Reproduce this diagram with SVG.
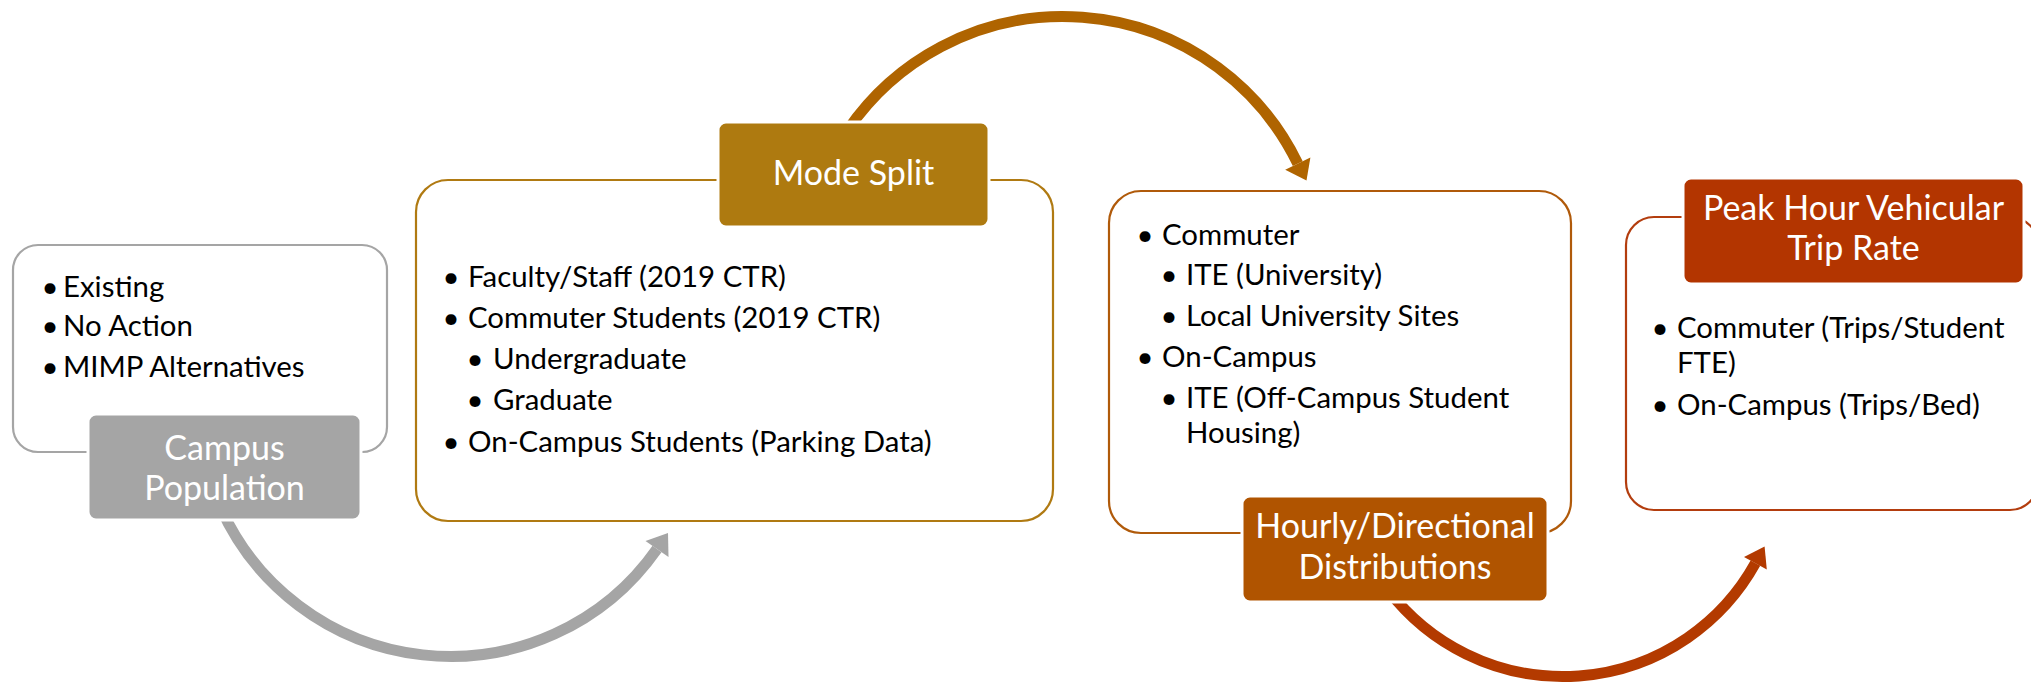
<svg xmlns="http://www.w3.org/2000/svg" width="2031" height="687" viewBox="0 0 2031 687">
  <style>
    .frame { fill: #ffffff; stroke-width: 2.2; }
    .head { stroke: #ffffff; stroke-width: 3; }
    .ht { font-family: Lato, "Open Sans", "Liberation Sans", sans-serif; font-size: 34px; fill: #ffffff; text-anchor: middle; }
    .bt { font-family: Lato, "Open Sans", "Liberation Sans", sans-serif; font-size: 29.4px; fill: #000000; }
    .dot { text-anchor: middle; }
    .arc { fill: none; stroke-width: 11; }
  </style>
  <rect x="0" y="0" width="2031" height="687" fill="#ffffff"/>

  <!-- curved connectors between the stages -->
  <g id="connectors">
    <path class="arc" stroke="#a5a5a5" d="M217.4,500 A252,252 0 0 0 657,549"/>
    <polygon fill="#a5a5a5" points="668,533 645.5,541 668.5,557"/>
    <path class="arc" stroke="#af6400" d="M847.7,130 A261,261 0 0 1 1297.8,163.6"/>
    <polygon fill="#af6400" points="1306.5,180.5 1310.4,157.5 1285.2,169.7"/>
    <path class="arc" stroke="#b33a00" d="M1388.1,590 A220,220 0 0 0 1755.4,563.2"/>
    <polygon fill="#b33a00" points="1764.6,546.6 1766.8,569.5 1744,556.9"/>
  </g>

  <!-- stage 1: campus population -->
  <g id="campus-population">
    <rect class="frame" stroke="#a5a5a5" x="13" y="245" width="374" height="207" rx="25"/>
    <text class="bt"><tspan class="dot" x="50" y="297">•</tspan><tspan x="63" y="297">Existing</tspan></text>
    <text class="bt"><tspan class="dot" x="50" y="336">•</tspan><tspan x="63" y="336">No Action</tspan></text>
    <text class="bt"><tspan class="dot" x="50" y="377">•</tspan><tspan x="63" y="377">MIMP Alternatives</tspan></text>
    <rect class="head" fill="#a5a5a5" x="88" y="414" width="273" height="106" rx="8"/>
    <text class="ht" x="224.5" y="460">Campus</text>
    <text class="ht" x="224.5" y="500">Population</text>
  </g>

  <!-- stage 2: mode split -->
  <g id="mode-split">
    <rect class="frame" stroke="#b07a12" x="416" y="180" width="637" height="341" rx="32"/>
    <rect class="head" fill="#ae7a10" x="718" y="122" width="271" height="105" rx="8"/>
    <text class="ht" x="853.5" y="185">Mode Split</text>
    <text class="bt"><tspan class="dot" x="451" y="287">•</tspan><tspan x="468" y="287">Faculty/Staff (2019 CTR)</tspan></text>
    <text class="bt"><tspan class="dot" x="451" y="328">•</tspan><tspan x="468" y="328">Commuter Students (2019 CTR)</tspan></text>
    <text class="bt"><tspan class="dot" x="475" y="369">•</tspan><tspan x="493" y="369">Undergraduate</tspan></text>
    <text class="bt"><tspan class="dot" x="475" y="410">•</tspan><tspan x="493" y="410">Graduate</tspan></text>
    <text class="bt"><tspan class="dot" x="451" y="452">•</tspan><tspan x="468" y="452">On-Campus Students (Parking Data)</tspan></text>
  </g>

  <!-- stage 3: hourly / directional distributions -->
  <g id="hourly-directional">
    <rect class="frame" stroke="#b05a0a" x="1109" y="191" width="462" height="342" rx="32"/>
    <text class="bt"><tspan class="dot" x="1145" y="245">•</tspan><tspan x="1162" y="245">Commuter</tspan></text>
    <text class="bt"><tspan class="dot" x="1169" y="285">•</tspan><tspan x="1186" y="285">ITE (University)</tspan></text>
    <text class="bt"><tspan class="dot" x="1169" y="326">•</tspan><tspan x="1186" y="326">Local University Sites</tspan></text>
    <text class="bt"><tspan class="dot" x="1145" y="367">•</tspan><tspan x="1162" y="367">On-Campus</tspan></text>
    <text class="bt"><tspan class="dot" x="1169" y="408">•</tspan><tspan x="1186" y="408">ITE (Off-Campus Student</tspan><tspan x="1186" y="443">Housing)</tspan></text>
    <rect class="head" fill="#b05400" x="1242" y="496" width="306" height="106" rx="8"/>
    <text class="ht" x="1395" y="538">Hourly/Directional</text>
    <text class="ht" x="1395" y="579">Distributions</text>
  </g>

  <!-- stage 4: peak hour vehicular trip rate -->
  <g id="peak-hour-trip-rate">
    <rect class="frame" stroke="#b33d0e" x="1626" y="217" width="412" height="293" rx="28"/>
    <rect class="head" fill="#b33500" x="1683" y="178" width="341" height="106" rx="8"/>
    <text class="ht" x="1853.5" y="220">Peak Hour Vehicular</text>
    <text class="ht" x="1853.5" y="260">Trip Rate</text>
    <text class="bt"><tspan class="dot" x="1660" y="338">•</tspan><tspan x="1677" y="338">Commuter (Trips/Student</tspan><tspan x="1677" y="373">FTE)</tspan></text>
    <text class="bt"><tspan class="dot" x="1660" y="415">•</tspan><tspan x="1677" y="415">On-Campus (Trips/Bed)</tspan></text>
  </g>
</svg>
